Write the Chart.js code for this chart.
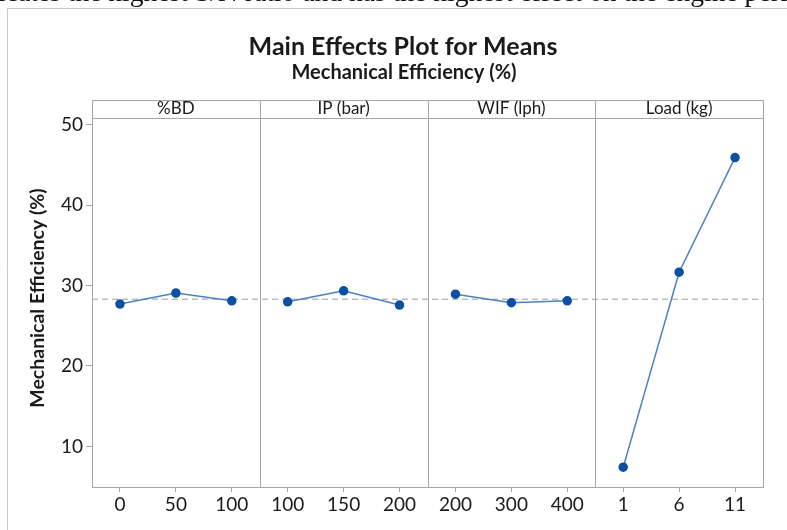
<!DOCTYPE html>
<html>
<head>
<meta charset="utf-8">
<script src="https://cdn.jsdelivr.net/npm/chart.js@4/dist/chart.umd.min.js"></script>
<style>
html,body{margin:0;padding:0;background:#fff;}
#wrap{width:787px;height:530px;}
</style>
</head>
<body>
<div id="wrap"><canvas id="c" width="787" height="530"></canvas></div>
<script>
// ---- data ----
const factorNames = ['%BD', 'IP (bar)', 'WIF (lph)', 'Load (kg)'];
const bdLevels   = ['0', '50', '100'];
const ipLevels   = ['100', '150', '200'];
const wifLevels  = ['200', '300', '400'];
const loadLevels = ['1', '6', '11'];
const bdMeans   = [27.70, 29.06, 28.10];
const ipMeans   = [27.98, 29.34, 27.57];
const wifMeans  = [28.93, 27.86, 28.10];
const loadMeans = [7.41, 31.66, 45.91];
const grandMean = 28.3;
const yTicks = [10, 20, 30, 40, 50];
const chartTitle = 'Main Effects Plot for Means';
const chartSubtitle = 'Mechanical Efficiency (%)';
const yTitle = 'Mechanical Efficiency (%)';
const pageText = 'icates the highest S/N ratio and has the highest effect on the engine perf';

// ---- build library structures ----
const levelGroups = [bdLevels, ipLevels, wifLevels, loadLevels];
const meanGroups = [bdMeans, ipMeans, wifMeans, loadMeans];
const labels = [].concat(...levelGroups);
const datasets = meanGroups.map((m, g) => {
  const arr = new Array(labels.length).fill(null);
  let start = 0;
  for (let k = 0; k < g; k++) start += levelGroups[k].length;
  m.forEach((v, i) => arr[start + i] = v);
  return {
    label: factorNames[g],
    data: arr,
    borderColor: '#4a80c4',
    backgroundColor: '#0b50a3',
    pointBackgroundColor: '#0b50a3',
    pointBorderColor: '#0b50a3',
    pointRadius: 4,
    pointHoverRadius: 4,
    borderWidth: 1.5,
    spanGaps: false,
    tension: 0
  };
});

const FONT = 'Lato, "Open Sans", sans-serif';
const TXT = '#1a1a1a';
const GRID = '#a6a6a6';
const HEADER_H = 18;

const decor = {
  id: 'decor',
  beforeDatasetsDraw(chart) {
    const ctx = chart.ctx, a = chart.chartArea, y = chart.scales.y;
    const py = y.getPixelForValue(grandMean);
    ctx.save();
    ctx.strokeStyle = '#bdbdbd';
    ctx.lineWidth = 1.5;
    ctx.setLineDash([6, 4]);
    ctx.beginPath();
    ctx.moveTo(a.left, py);
    ctx.lineTo(a.right, py);
    ctx.stroke();
    ctx.restore();
  },
  afterDraw(chart) {
    const ctx = chart.ctx, a = chart.chartArea, x = chart.scales.x;
    ctx.save();
    // page text (cropped)
    ctx.fillStyle = '#111';
    ctx.font = '21px "Liberation Serif", serif';
    ctx.textBaseline = 'alphabetic';
    ctx.textAlign = 'left';
    const w = ctx.measureText(pageText).width;
    const sc = 790 / w;
    ctx.font = (21 * sc).toFixed(1) + 'px "Liberation Serif", serif';
    ctx.fillText(pageText, -2, 1);
    // outer frame
    ctx.strokeStyle = '#c8c8c8';
    ctx.lineWidth = 1;
    ctx.beginPath();
    ctx.moveTo(7.5, 530);
    ctx.lineTo(7.5, 8.5);
    ctx.lineTo(787, 8.5);
    ctx.stroke();
    // titles
    ctx.fillStyle = TXT;
    ctx.textAlign = 'center';
    ctx.textBaseline = 'alphabetic';
    ctx.font = 'bold 25px ' + FONT;
    ctx.fillText(chartTitle, 403, 55);
    ctx.font = 'bold 20px ' + FONT;
    ctx.fillText(chartSubtitle, 404, 79);
    // y-axis title
    ctx.save();
    ctx.translate(38, 298);
    ctx.rotate(-Math.PI / 2);
    ctx.textBaseline = 'middle';
    ctx.font = 'bold 19.5px ' + FONT;
    ctx.fillText(yTitle, 0, 0);
    ctx.restore();
    // panel frame
    const top = a.top - HEADER_H;
    ctx.strokeStyle = GRID;
    ctx.lineWidth = 1;
    ctx.strokeRect(Math.round(a.left) + 0.5, Math.round(top) + 0.5,
                   Math.round(a.right - a.left), Math.round(a.bottom - top));
    ctx.beginPath();
    ctx.moveTo(a.left, Math.round(a.top) + 0.5);
    ctx.lineTo(a.right, Math.round(a.top) + 0.5);
    ctx.stroke();
    let idx = 0;
    const bounds = [a.left];
    levelGroups.forEach((g, gi) => {
      idx += g.length;
      if (gi < levelGroups.length - 1) {
        const bx = (x.getPixelForValue(idx - 1) + x.getPixelForValue(idx)) / 2;
        bounds.push(bx);
        ctx.beginPath();
        ctx.moveTo(Math.round(bx) + 0.5, top);
        ctx.lineTo(Math.round(bx) + 0.5, a.bottom);
        ctx.stroke();
      }
    });
    bounds.push(a.right);
    ctx.fillStyle = TXT;
    ctx.font = '17px ' + FONT;
    ctx.textBaseline = 'middle';
    factorNames.forEach((n, i) => {
      ctx.fillText(n, (bounds[i] + bounds[i + 1]) / 2, top + HEADER_H / 2);
    });
    ctx.restore();
  }
};

new Chart(document.getElementById('c'), {
  type: 'line',
  data: { labels, datasets },
  plugins: [decor],
  options: {
    responsive: false,
    animation: false,
    devicePixelRatio: 1,
    layout: { padding: { top: 118, right: 24, left: 24, bottom: 0 } },
    plugins: { legend: { display: false }, tooltip: { enabled: false }, title: { display: false } },
    scales: {
      x: {
        type: 'category',
        offset: true,
        grid: { display: true, offset: false, drawOnChartArea: false, drawTicks: true, tickLength: 5, color: GRID },
        border: { display: false },
        ticks: { color: TXT, font: { family: FONT, size: 19 }, padding: 1, autoSkip: false, maxRotation: 0 },
        afterFit(s) { s.height = 43; }
      },
      y: {
        min: 4.95,
        max: 50.83,
        afterBuildTicks(s) { s.ticks = yTicks.map(v => ({ value: v })); },
        grid: { display: true, drawOnChartArea: false, drawTicks: true, tickLength: 6, color: GRID },
        border: { display: false },
        ticks: { color: TXT, font: { family: FONT, size: 19 }, padding: 3 },
        title: { display: false },
        afterFit(s) { s.width = 68; }
      }
    }
  }
});
</script>
</body>
</html>
